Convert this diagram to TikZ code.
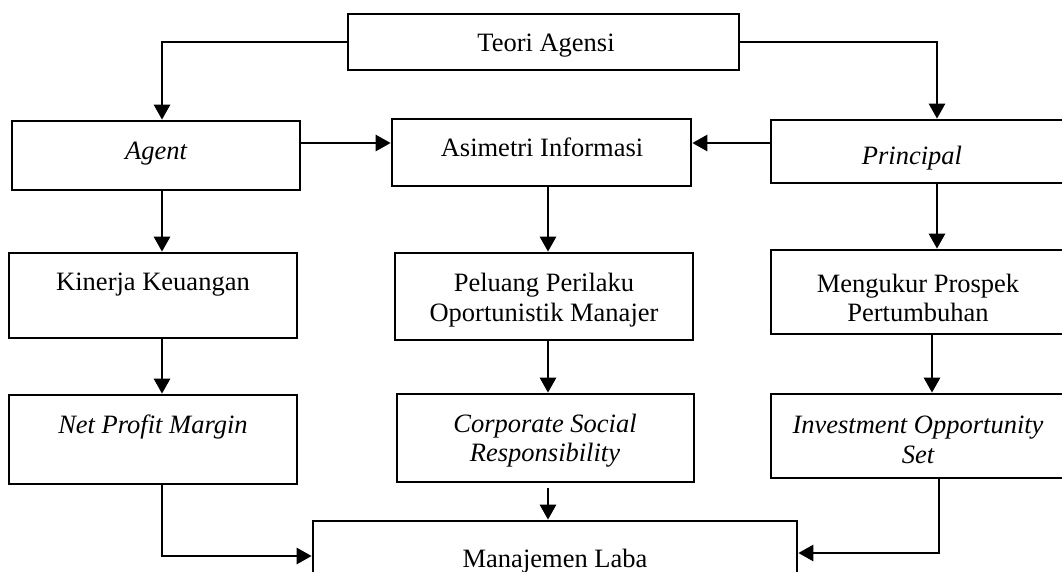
\documentclass[tikz,border=0pt]{standalone}
\usepackage{fontspec}
\setmainfont{Liberation Serif}
\usetikzlibrary{arrows.meta}
\begin{document}
\begin{tikzpicture}[x=1pt,y=-1pt,
  box/.style={draw=black,line width=2.7pt,fill=white,inner sep=0pt},
  txt/.style={anchor=base,inner sep=0pt,font=\fontsize{26.5}{30}\selectfont},
  conn/.style={line width=2.7pt,-{Triangle[width=16pt,length=15pt]}},
  plain/.style={line width=2.7pt}]
\useasboundingbox (0,0) rectangle (1062,571);
\clip (0,0) rectangle (1062,571);
% boxes
\node[box,minimum width=391pt,minimum height=56pt] (teori) at (543.5,42) {};
\node[box,minimum width=288pt,minimum height=69pt] (agent) at (156,155.5) {};
\node[box,minimum width=299pt,minimum height=67pt] (asim) at (541.5,152.5) {};
\node[box,minimum width=304pt,minimum height=63pt] (princ) at (923,151.5) {};
\node[box,minimum width=288pt,minimum height=85pt] (kin) at (153,295.5) {};
\node[box,minimum width=298pt,minimum height=87pt] (pel) at (544,296.5) {};
\node[box,minimum width=304pt,minimum height=84pt] (meng) at (923,292) {};
\node[box,minimum width=288pt,minimum height=89pt] (npm) at (153,439.5) {};
\node[box,minimum width=297pt,minimum height=88pt] (csr) at (545.5,438) {};
\node[box,minimum width=304pt,minimum height=84pt] (ios) at (923,436) {};
\node[box,minimum width=484pt,minimum height=79pt] (ml) at (555,560.5) {};
% texts
\node[txt] at (546,51) {Teori Agensi};
\node[txt] at (156,159) {\itshape Agent};
\node[txt] at (542,156) {Asimetri Informasi};
\node[txt] at (912,164) {\itshape Principal};
\node[txt] at (153,290) {Kinerja Keuangan};
\node[txt] at (544,291) {Peluang Perilaku};
\node[txt] at (544,321) {Oportunistik Manajer};
\node[txt] at (918,292) {Mengukur Prospek};
\node[txt] at (918,321) {Pertumbuhan};
\node[txt] at (153,433) {\itshape Net Profit Margin};
\node[txt] at (545,432) {\itshape Corporate Social};
\node[txt] at (545,461) {\itshape Responsibility};
\node[txt] at (918,433) {\itshape Investment Opportunity};
\node[txt] at (918,463) {\itshape Set};
\node[txt] at (555,567) {Manajemen Laba};
% helper coordinates
\coordinate (xl) at (162,0);
\coordinate (xm) at (548,0);
\coordinate (xr) at (937,0);
\coordinate (xr2) at (932,0);
\coordinate (xr3) at (939,0);
\coordinate (r2) at (0,143);
\coordinate (yb1) at (0,556);
\coordinate (yb2) at (0,553);
% connectors
\draw[conn] (teori.west) -| (xl |- agent.north);
\draw[conn] (teori.east) -| (xr |- princ.north);
\draw[conn] (agent.east |- r2) -- (asim.west |- r2);
\draw[conn] (princ.west |- r2) -- (asim.east |- r2);
\draw[conn] (xl |- agent.south) -- (xl |- kin.north);
\draw[conn] (xm |- asim.south) -- (xm |- pel.north);
\draw[conn] (xr |- princ.south) -- (xr |- meng.north);
\draw[conn] (xl |- kin.south) -- (xl |- npm.north);
\draw[conn] (xm |- pel.south) -- (xm |- csr.north);
\draw[conn] (xr2 |- meng.south) -- (xr2 |- ios.north);
\draw[conn,shorten <=5pt] (xm |- csr.south) -- (xm |- ml.north);
\draw[conn] (xl |- npm.south) |- (ml.west |- yb1);
\draw[conn] (xr3 |- ios.south) |- (ml.east |- yb2);
\end{tikzpicture}
\end{document}
